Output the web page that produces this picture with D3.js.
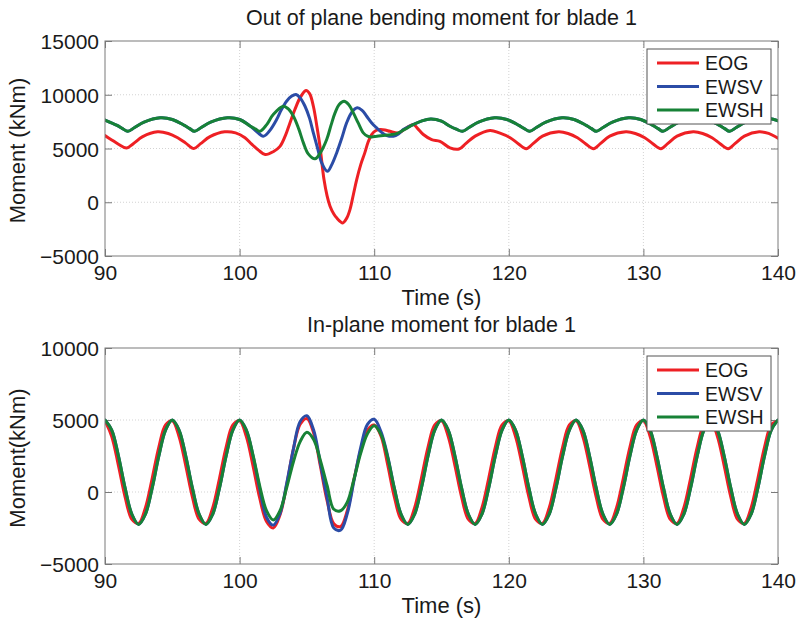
<!DOCTYPE html>
<html><head><meta charset="utf-8">
<script src="https://cdn.jsdelivr.net/npm/d3@7"></script>
<style>body{margin:0;background:#fff} text{font-family:"Liberation Sans",Arial,Helvetica,sans-serif;fill:#1a1a1a}</style>
</head><body><svg id="c" width="798" height="622"></svg>
<script>
// ---------------- DATA ----------------
const seriesNames = ["EOG", "EWSV", "EWSH"];
const xTicks = [90, 100, 110, 120, 130, 140];
const yTicksTop = [-5000, 0, 5000, 10000, 15000];
const yTicksBottom = [-5000, 0, 5000, 10000];
const titleTop = "Out of plane bending moment for blade 1";
const titleBottom = "In-plane moment for blade 1";
const xLabel = "Time (s)";
const yLabelTop = "Moment (kNm)";
const yLabelBottom = "Moment(kNm)";

// Out-of-plane moment, [time s, kNm]
const eogTop = [[90,6200],[90.5,5800],[91.0,5400],[91.6,5050],[92.1,5450],[92.8,6100],[93.9,6550],[94.7,6400],[95.4,6000],[96.0,5500],[96.6,5000],[97.1,5450],[97.8,6100],[98.9,6550],[99.7,6450],[100.4,6000],[100.9,5400],[101.4,4850],[101.9,4440],[102.5,4700],[103.0,5200],[103.4,6200],[103.74,7380],[104.1,8600],[104.49,9710],[104.93,10390],[105.2,10100],[105.48,8930],[105.75,7000],[105.97,5210],[106.27,2110],[106.5,600],[106.72,-370],[107.0,-1100],[107.21,-1450],[107.66,-1920],[107.95,-1500],[108.2,-680],[108.45,700],[108.7,2110],[109.0,3500],[109.3,4590],[109.55,5600],[109.81,6300],[110.1,6650],[110.43,6760],[110.8,6720],[111.17,6600],[111.79,6450],[112.1,6650],[112.41,6920],[112.91,7230],[113.2,6900],[113.65,6300],[114.27,5830],[114.89,5670],[115.63,5060],[116.3,4950],[116.8,5450],[117.5,6150],[118.6,6680],[119.3,6450],[120.1,6000],[120.7,5450],[121.3,4980],[121.8,5450],[122.5,6150],[123.7,6550],[124.4,6400],[125.1,6000],[125.7,5450],[126.3,4980],[126.8,5450],[127.5,6150],[128.7,6550],[129.4,6400],[130.1,6000],[130.7,5450],[131.3,4980],[131.8,5450],[132.5,6150],[133.7,6550],[134.4,6400],[135.1,6000],[135.7,5450],[136.3,4980],[136.8,5450],[137.5,6150],[138.6,6550],[139.3,6400],[140,5950]];
const sharedTopStart = [[90,7650],[90.9,7150],[91.3,6850],[91.7,6600],[92.2,6950],[92.9,7450],[94.1,7850],[95.0,7700],[95.9,7150],[96.3,6850],[96.65,6600],[97.15,6950],[97.85,7450],[99.1,7850],[100.0,7700],[100.78,7100]];
const ewsvTopGust = [[101.2,6650],[101.76,6140],[102.2,6600],[102.75,7690],[103.1,8600],[103.49,9400],[103.85,9850],[104.19,10020],[104.5,9700],[104.86,8930],[105.2,7800],[105.48,6450],[105.8,5000],[106.1,3660],[106.52,2880],[106.85,3500],[107.21,4590],[107.6,6000],[107.95,7380],[108.35,8400],[108.74,8780],[109.1,8550],[109.44,8000],[109.8,7400],[110.18,6920],[110.55,6500],[110.93,6210],[111.42,6140],[111.8,6350],[112.16,6760],[112.6,7050],[112.91,7230]];
const ewshTopGust = [[101.2,6800],[101.51,6600],[102.0,7200],[102.5,8160],[103.25,8930],[103.6,8700],[104.0,8000],[104.4,6800],[104.74,5520],[105.1,4500],[105.6,4040],[106.0,4600],[106.47,5830],[106.8,7200],[107.09,8310],[107.4,9100],[107.76,9400],[108.1,9100],[108.45,8310],[108.8,7400],[109.19,6450],[109.5,6150],[109.81,6080],[110.2,6150],[110.68,6210],[111.2,6280],[111.67,6390],[112.3,6800],[112.91,7230]];
const sharedTopEnd = [[113.5,7550],[114.2,7750],[115.0,7550],[115.63,7070],[116.1,6800],[116.55,6600],[117.05,6950],[117.75,7450],[118.95,7850],[119.85,7700],[120.75,7150],[121.15,6850],[121.55,6600],[122.05,6950],[122.75,7450],[123.95,7850],[124.85,7700],[125.75,7150],[126.15,6850],[126.5,6600],[127.0,6950],[127.7,7450],[128.9,7850],[129.8,7700],[130.7,7150],[131.1,6850],[131.45,6600],[131.95,6950],[132.65,7450],[133.85,7850],[134.75,7700],[135.65,7150],[136.05,6850],[136.4,6600],[136.9,6950],[137.6,7450],[138.8,7850],[139.7,7700],[140,7580]];

// In-plane moment on a 0.5 s time grid (90 .. 140 s)
const timeBottom = d3.range(90, 140.001, 0.5);
const eogBottom = [4935,3855,1830,-370,-1905,-2185,-1105,920,3120,4655, 4935,3855,1830,-370,-1905,-2185,-1105,920,3120,4655,
  4935,3855,1800,-450,-2050,-2500,-1600,500,3000,4700,5100,4100,1800,-600,-2200,-2400,-1300,900,2900,4300,4650,3900,1900,-350,-1900,-2185,
  -1105,920,3120,4655,
  4935,3855,1830,-370,-1905,-2185,-1105,920,3120,4655, 4935,3855,1830,-370,-1905,-2185,-1105,920,3120,4655,
  4935,3855,1830,-370,-1905,-2185,-1105,920,3120,4655, 4935,3855,1830,-370,-1905,-2185,-1105,920,3120,4655,
  4935,3855,1830,-370,-1905,-2185,-1105,920,3120,4655, 4935];
const ewsvBottom = [5000,4300,2500,250,-1550,-2250,-1550,250,2500,4300, 5000,4300,2500,250,-1550,-2250,-1550,250,2500,4300,
  5000,4300,2500,200,-1750,-2300,-1500,600,3000,4900,5300,4300,2000,-400,-2500,-2650,-1500,800,3100,4700,5050,4200,2500,250,-1550,-2250,
  -1550,250,2500,4300,
  5000,4300,2500,250,-1550,-2250,-1550,250,2500,4300, 5000,4300,2500,250,-1550,-2250,-1550,250,2500,4300,
  5000,4300,2500,250,-1550,-2250,-1550,250,2500,4300, 5000,4300,2500,250,-1550,-2250,-1550,250,2500,4300,
  5000,4300,2500,250,-1550,-2250,-1550,250,2500,4300, 5000];
const ewshBottom = [5000,4300,2500,250,-1550,-2250,-1550,250,2500,4300, 5000,4300,2500,250,-1550,-2250,-1550,250,2500,4300,
  5000,4300,2550,400,-1300,-1950,-1300,300,2100,3500,4150,3650,2200,450,-1200,-1300,-700,900,2700,4050,4600,4000,2400,250,-1550,-2250,
  -1550,250,2500,4300,
  5000,4300,2500,250,-1550,-2250,-1550,250,2500,4300, 5000,4300,2500,250,-1550,-2250,-1550,250,2500,4300,
  5000,4300,2500,250,-1550,-2250,-1550,250,2500,4300, 5000,4300,2500,250,-1550,-2250,-1550,250,2500,4300,
  5000,4300,2500,250,-1550,-2250,-1550,250,2500,4300, 5000];

// ---------------- STYLE ----------------
const colors = {"EOG": "#ee2024", "EWSV": "#2b4ca6", "EWSH": "#178236"};
const svg = d3.select("#c");

const topSeries = [
  {name: "EOG", pts: eogTop},
  {name: "EWSV", pts: sharedTopStart.concat(ewsvTopGust, sharedTopEnd)},
  {name: "EWSH", pts: sharedTopStart.concat(ewshTopGust, sharedTopEnd)}
];
const bottomSeries = [
  {name: "EOG", pts: timeBottom.map((t, i) => [t, eogBottom[i]])},
  {name: "EWSV", pts: timeBottom.map((t, i) => [t, ewsvBottom[i]])},
  {name: "EWSH", pts: timeBottom.map((t, i) => [t, ewshBottom[i]])}
];

function panel(box, yDomain, yTicks, series, title, ylab) {
  const x = d3.scaleLinear().domain([90, 140]).range([box.x0, box.x1]);
  const y = d3.scaleLinear().domain(yDomain).range([box.y1, box.y0]);
  const g = svg.append("g");
  // grid
  g.selectAll(".gx").data(xTicks.slice(1, -1)).enter().append("line")
    .attr("x1", d => x(d)).attr("x2", d => x(d)).attr("y1", box.y0).attr("y2", box.y1)
    .attr("stroke", "#c8c8c8").attr("stroke-width", 0.8).attr("stroke-dasharray", "1,2");
  g.selectAll(".gy").data(yTicks.slice(1, -1)).enter().append("line")
    .attr("y1", d => y(d)).attr("y2", d => y(d)).attr("x1", box.x0).attr("x2", box.x1)
    .attr("stroke", "#c8c8c8").attr("stroke-width", 0.8).attr("stroke-dasharray", "1,2");
  // axes
  const tk = 7;
  const axB = g.append("g").attr("transform", `translate(0,${box.y1})`)
    .call(d3.axisBottom(x).tickValues(xTicks).tickSizeInner(-tk).tickSizeOuter(0).tickPadding(9));
  const axT = g.append("g").attr("transform", `translate(0,${box.y0})`)
    .call(d3.axisTop(x).tickValues(xTicks).tickSizeInner(-tk).tickSizeOuter(0).tickFormat(""));
  const axL = g.append("g").attr("transform", `translate(${box.x0},0)`)
    .call(d3.axisLeft(y).tickValues(yTicks).tickSizeInner(-tk).tickSizeOuter(0).tickPadding(6).tickFormat(d3.format("d")));
  const axR = g.append("g").attr("transform", `translate(${box.x1},0)`)
    .call(d3.axisRight(y).tickValues(yTicks).tickSizeInner(-tk).tickSizeOuter(0).tickFormat(""));
  [axB, axT, axL, axR].forEach(a => {
    a.select(".domain").remove();
    a.selectAll("line").attr("stroke", "#7a7a7a");
    a.selectAll("text").attr("font-size", 21).attr("fill", "#1a1a1a")
      .attr("font-family", "'Liberation Sans',Arial,sans-serif");
  });
  axL.selectAll("text").attr("dy", "0.36em");
  // lines
  const line = d3.line().x(d => x(d[0])).y(d => y(d[1])).curve(d3.curveCatmullRom.alpha(0.5));
  const clipId = "clip" + Math.round(box.y0);
  svg.append("clipPath").attr("id", clipId).append("rect")
    .attr("x", box.x0).attr("y", box.y0).attr("width", box.x1 - box.x0).attr("height", box.y1 - box.y0);
  g.append("g").attr("clip-path", `url(#${clipId})`).selectAll("path").data(series).enter().append("path")
    .attr("d", d => line(d.pts)).attr("fill", "none").attr("stroke", d => colors[d.name])
    .attr("stroke-width", 3).attr("stroke-linejoin", "round").attr("stroke-linecap", "round");
  // frame
  g.append("rect").attr("x", box.x0).attr("y", box.y0).attr("width", box.x1 - box.x0).attr("height", box.y1 - box.y0)
    .attr("fill", "none").attr("stroke", "#7a7a7a").attr("stroke-width", 1);
  // title and labels
  g.append("text").attr("x", (box.x0 + box.x1) / 2).attr("y", box.y0 - 16).attr("text-anchor", "middle")
    .attr("font-size", 21.5).text(title);
  g.append("text").attr("x", (box.x0 + box.x1) / 2).attr("y", box.y1 + 49).attr("text-anchor", "middle")
    .attr("font-size", 22).text(xLabel);
  g.append("text").attr("transform", `translate(25,${(box.y0 + box.y1) / 2 + 2}) rotate(-90)`).attr("text-anchor", "middle")
    .attr("font-size", 22).text(ylab);
  // legend
  const lg = g.append("g").attr("transform", `translate(647,${box.y0 + 8})`);
  lg.append("rect").attr("width", 124).attr("height", 75).attr("fill", "#fff").attr("stroke", "#555").attr("stroke-width", 1);
  seriesNames.forEach((n, i) => {
    const yy = 14 + i * 23.5;
    lg.append("line").attr("x1", 10).attr("x2", 52).attr("y1", yy).attr("y2", yy)
      .attr("stroke", colors[n]).attr("stroke-width", 3);
    lg.append("text").attr("x", 58).attr("y", yy).attr("dy", "0.36em").attr("font-size", 19.5).text(n);
  });
}

panel({x0: 105, x1: 778, y0: 41, y1: 256}, [-5000, 15000], yTicksTop, topSeries, titleTop, yLabelTop);
panel({x0: 105, x1: 778, y0: 348, y1: 564}, [-5000, 10000], yTicksBottom, bottomSeries, titleBottom, yLabelBottom);
</script></body></html>
